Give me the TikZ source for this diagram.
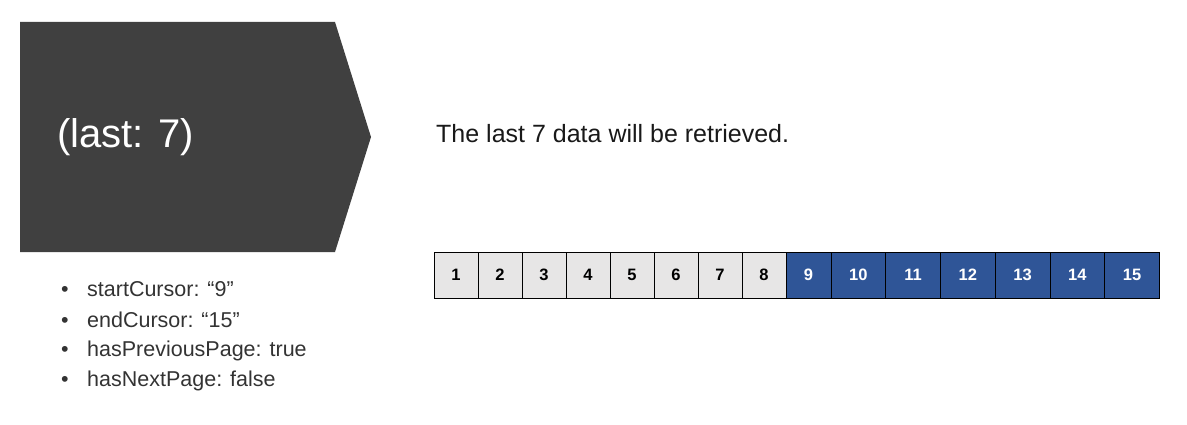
\documentclass[tikz,border=0pt]{standalone}
\usepackage{fontspec}
\setmainfont{Liberation Sans}
\usepackage{tikz}
\usetikzlibrary{positioning}

\definecolor{arrowdark}{HTML}{404040}
\definecolor{cellgray}{HTML}{E7E6E6}
\definecolor{cellblue}{HTML}{2F5597}

\tikzset{
	cell/.style={draw=black,line width=0.8pt,minimum height=46pt,inner sep=0pt,
		font=\fontsize{16.5}{18}\selectfont\bfseries},
	graycell/.style={cell,fill=cellgray,text=black,minimum width=44pt},
	bluecell/.style={cell,fill=cellblue,text=white,minimum width=54.75pt},
	item/.style={anchor=west,inner sep=0pt,font=\fontsize{21.5}{24}\selectfont,text=black!80}
}

\begin{document}
\begin{tikzpicture}[x=1pt,y=-1pt]
		\useasboundingbox (0,0) rectangle (1187,425);
		% big arrow
		\fill[arrowdark] (20,22) -- (335,22) -- (371,137) -- (335,252) -- (20,252) -- cycle;
		\node[anchor=west,inner sep=0pt,text=white,font=\fontsize{40}{42}\selectfont] (title) at (57,137) {(last: 7)};
		%
		\node[anchor=west,inner sep=0pt,text=black!90,font=\fontsize{25}{28}\selectfont] (caption) at (436,134) {The last 7 data will be retrieved.};
		%
		% list of page info
		\node[item] (i1) at (61,289) {\makebox[26pt][l]{\textbullet}startCursor: “9”};
		\node[item] (i2) at (61,320) {\makebox[26pt][l]{\textbullet}endCursor: “15”};
		\node[item] (i3) at (61,351) {\makebox[26pt][l]{\textbullet}hasPreviousPage: true};
		\node[item] (i4) at (61,381) {\makebox[26pt][l]{\textbullet}hasNextPage: false};
		%
		% cells
		\node[graycell] (c1) at (456,275) {1};
		\node[graycell] (c2) at (500,275) {2};
		\node[graycell] (c3) at (544,275) {3};
		\node[graycell] (c4) at (588,275) {4};
		\node[graycell] (c5) at (632,275) {5};
		\node[graycell] (c6) at (676,275) {6};
		\node[graycell] (c7) at (720,275) {7};
		\node[graycell] (c8) at (764,275) {8};
		\node[bluecell,minimum width=45pt] (c9) at (808.5,275) {9};
		\node[bluecell] (c10) at (858.375,275) {10};
		\node[bluecell] (c11) at (913.125,275) {11};
		\node[bluecell] (c12) at (967.875,275) {12};
		\node[bluecell] (c13) at (1022.625,275) {13};
		\node[bluecell] (c14) at (1077.375,275) {14};
		\node[bluecell] (c15) at (1132.125,275) {15};
	\end{tikzpicture}
\end{document}
